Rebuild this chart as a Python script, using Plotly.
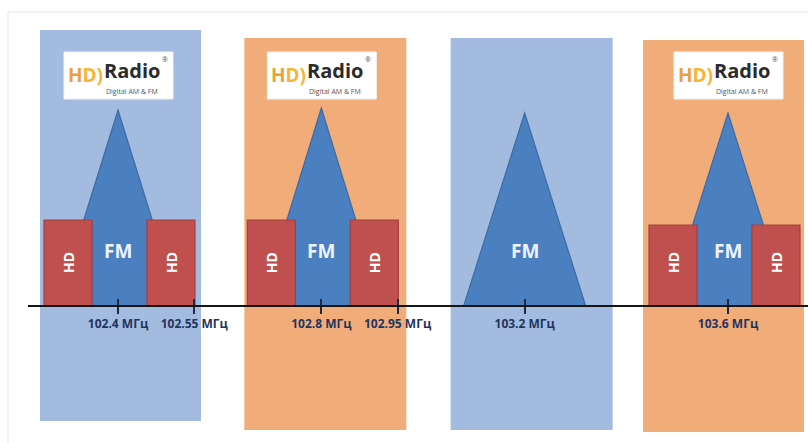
import plotly.graph_objects as go

# ---------------- data ----------------
centers = [102.4, 102.8, 103.2, 103.6]          # FM carrier frequencies, MHz
has_hd = [True, True, False, True]              # station carries HD sidebands
band_kind = ["blue", "orange", "blue", "orange"]
tick_vals = [102.4, 102.55, 102.8, 102.95, 103.2, 103.6]
tick_text = ["102.4 МГц", "102.55 МГц", "102.8 МГц", "102.95 МГц", "103.2 МГц", "103.6 МГц"]

# ---------------- layout / style ----------------
W, H = 808, 443
PX_PER_MHZ = 508.33
F0, PX0 = 102.4, 118
BASE_PX = 306
X_LEFT_PX = 28


def d(px):
    """pixel offset -> MHz offset"""
    return px / PX_PER_MHZ


xrange = [F0 - (PX0 - X_LEFT_PX) / PX_PER_MHZ, F0 + (W - PX0) / PX_PER_MHZ]
yrange = [BASE_PX - H, BASE_PX]

BAND_COL = {"blue": "#a3bbde", "orange": "#f1ad79"}
FM_FILL, FM_LINE = "#4a7fc0", "#3c6aa6"
HD_FILL, HD_LINE = "#c0504d", "#a3403d"

# per band: left off, right off, top, bottom  (px offsets / heights above baseline)
band_geom = [(-78, 83, 276, -115), (-77, 85, 268, -124), (-74, 88, 268, -124), (-85, 76, 266, -126)]
apex_h = [196, 198, 193, 193]
hd_top = [86, 86, 86, 81]
hd_shift = [0, 0, 0, -5]
TRI_HALF = 61
HD_L = (-74, -26)
HD_R = (29, 77)
LOGO_X = (-54, 55)
LOGO_Y = (207, 254)

shapes = []
annotations = []

# faint outer frame
shapes.append(dict(type="rect", xref="paper", yref="paper", x0=8 / W, x1=1.02, y0=-0.02, y1=1 - 12 / H,
                   line=dict(color="#dfe7f1", width=1), fillcolor="rgba(0,0,0,0)", layer="below"))

for i, c in enumerate(centers):
    l, r, t, b = band_geom[i]
    shapes.append(dict(type="rect", xref="x", yref="y", x0=c + d(l), x1=c + d(r), y0=b, y1=t,
                       fillcolor=BAND_COL[band_kind[i]], line=dict(width=0), layer="below"))

for i, c in enumerate(centers):
    # FM triangle
    path = f"M {c - d(TRI_HALF)},0 L {c},{apex_h[i]} L {c + d(TRI_HALF)},0 Z"
    shapes.append(dict(type="path", xref="x", yref="y", path=path, fillcolor=FM_FILL,
                       line=dict(color=FM_LINE, width=1.2), layer="below"))
    if has_hd[i]:
        s = hd_shift[i]
        for (a, bb) in (HD_L, HD_R):
            shapes.append(dict(type="rect", xref="x", yref="y", x0=c + d(a + s), x1=c + d(bb + s),
                               y0=0, y1=hd_top[i],
                               fillcolor=HD_FILL, line=dict(color=HD_LINE, width=1.2), layer="below"))
            annotations.append(dict(x=c + d((a + bb) / 2 + s), y=43, xref="x", yref="y", text="HD",
                                    textangle=-90, showarrow=False,
                                    font=dict(family="Open Sans", size=14, color="white", weight="bold")))
        # HD Radio logo
        shapes.append(dict(type="rect", xref="x", yref="y", x0=c + d(LOGO_X[0]), x1=c + d(LOGO_X[1]),
                           y0=LOGO_Y[0], y1=LOGO_Y[1], fillcolor="white",
                           line=dict(color="#f3f3f3", width=1), layer="below"))
        annotations.append(dict(x=c + d(-33), y=231, xref="x", yref="y",
                                text="H<span style='color:#f5b43a'>D)</span>", showarrow=False,
                                font=dict(family="Open Sans", size=19, color="#e9a23b", weight="bold")))
        annotations.append(dict(x=c + d(14), y=236, xref="x", yref="y", text="Radio", showarrow=False,
                                font=dict(family="Open Sans", size=20, color="#2b2b2b", weight="bold")))
        annotations.append(dict(x=c + d(47), y=247, xref="x", yref="y", text="®", showarrow=False,
                                font=dict(family="Open Sans", size=7, color="#555555")))
        annotations.append(dict(x=c + d(14), y=215, xref="x", yref="y", text="Digital AM &amp; FM",
                                showarrow=False,
                                font=dict(family="Open Sans", size=7, color="#555555")))
    annotations.append(dict(x=c, y=55, xref="x", yref="y", text="FM", showarrow=False,
                            font=dict(family="Open Sans", size=19, color="#eef4ff", weight="bold")))

fig = go.Figure()
fig.add_trace(go.Scatter(x=centers, y=[0] * len(centers), mode="markers",
                         marker=dict(size=1, color="rgba(0,0,0,0)"), hoverinfo="skip", showlegend=False))

fig.update_layout(
    width=W, height=H,
    margin=dict(l=0, r=0, t=0, b=0),
    paper_bgcolor="white", plot_bgcolor="rgba(0,0,0,0)",
    showlegend=False,
    shapes=shapes,
    annotations=annotations,
    xaxis=dict(domain=[X_LEFT_PX / W, 1], range=xrange, anchor="free", position=(H - BASE_PX) / H,
               showgrid=False, zeroline=False, showline=True, linecolor="#151515", linewidth=2,
               ticks="outside", ticklen=7, tickwidth=2, tickcolor="#1b2a48",
               tickmode="array", tickvals=tick_vals, ticktext=tick_text,
               tickfont=dict(family="Open Sans", size=12, color="#1f3560", weight="bold"),
               minor=dict(ticks="inside", ticklen=6, tickwidth=2, tickcolor="#1b2a48",
                          tickmode="array", tickvals=tick_vals),
               fixedrange=True),
    yaxis=dict(domain=[0, 1], range=yrange, visible=False, fixedrange=True),
)

fig.write_html("out.html", config={"displayModeBar": False},
               post_script="document.body.style.margin='0';document.body.style.overflow='hidden';")
